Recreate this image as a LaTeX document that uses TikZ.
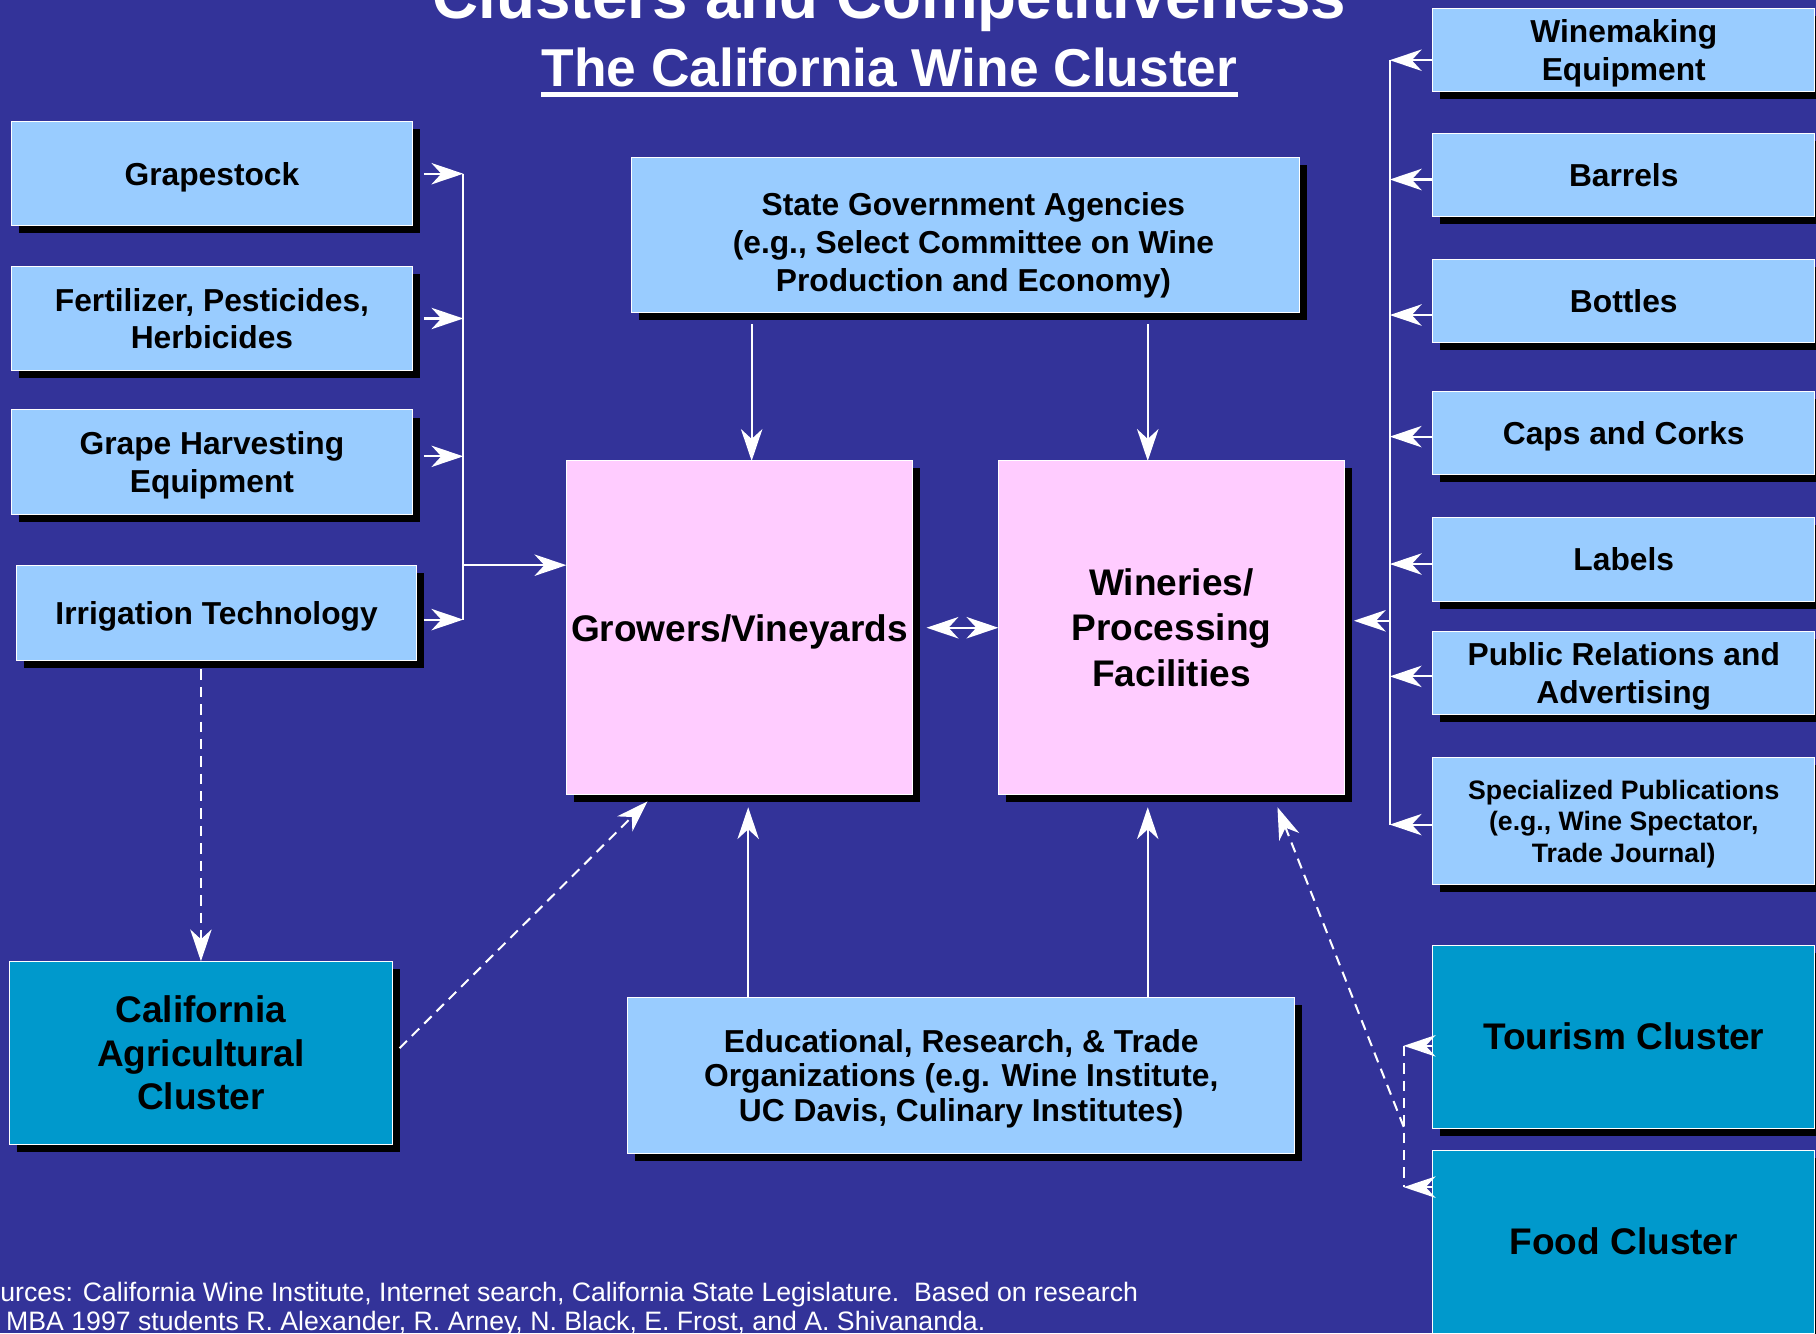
\documentclass[tikz,border=0pt]{standalone}
\usepackage{fontspec}
\setmainfont{Liberation Sans}
\usetikzlibrary{positioning,shadows,arrows.meta}
\definecolor{bg}{HTML}{333399}
\definecolor{lblue}{HTML}{99CCFF}
\definecolor{lpink}{HTML}{FFCCFF}
\definecolor{dcyan}{HTML}{0099CC}
\tikzset{card/.style={draw=white, line width=0.5pt, text=black, align=center, inner sep=0pt, outer sep=0pt, drop shadow={shadow xshift=0.13cm, shadow yshift=-0.13cm, fill=black, opacity=1}}}
\tikzset{box/.style={card, fill=lblue, text depth=0pt, font=\bfseries\fontsize{15.6}{18.6}\selectfont}}
\tikzset{side/.style={box, minimum width=6.92cm, minimum height=1.8cm}}
\tikzset{rbox/.style={box, minimum width=6.6cm, minimum height=1.44cm}}
\tikzset{hub/.style={card, fill=lpink, minimum width=5.98cm, minimum height=5.76cm, font=\bfseries\fontsize{18.2}{22.2}\selectfont}}
\tikzset{clus/.style={card, fill=dcyan, minimum width=6.6cm, minimum height=3.16cm, font=\bfseries\fontsize{18.2}{21.6}\selectfont}}
\tikzset{>={Stealth[length=0.55cm, width=0.37cm, inset=0.17cm]}}
\tikzset{line/.style={draw=white, line width=1pt, ->}}
\tikzset{dline/.style={line, dash pattern=on 0.18cm off 0.12cm}}
\tikzset{bus/.style={draw=white, line width=1pt}}

\begin{document}
\begin{tikzpicture}
	\useasboundingbox (0,0) rectangle (31.36,23.02);
	\clip (0,0) rectangle (31.36,23.02);
	\fill [bg] (0,0) rectangle (31.36,23.02);

	\node [text=white, font=\bfseries\fontsize{31.3}{36}\selectfont, anchor=base, inner sep=0pt]	(t1) at (15.36,22.70) {Clusters and Competitiveness};
	\node [text=white, font=\bfseries\fontsize{26.2}{30}\selectfont, anchor=base, inner sep=0pt]	(t2) at (15.36,21.53) {The California Wine Cluster};
	\draw [white, line width=0.086cm] ([yshift=-0.14cm]t2.base west) -- ([yshift=-0.14cm]t2.base east);

	\node [side]										(gs) at (3.66,20.02) {Grapestock};
	\node [side, below=0.7cm of gs]						(fp) {Fertilizer, Pesticides,\\Herbicides};
	\node [side, below=0.68cm of fp]					(gh) {Grape Harvesting\\Equipment};
	\node [side, below=0.88cm of gh, xshift=0.08cm, minimum height=1.64cm]	(it) {Irrigation Technology};

	\node [box, minimum width=11.54cm, minimum height=2.68cm, text height=55pt]	(sg) at (16.67,18.96) {\hspace*{0.28cm}State Government Agencies\\\hspace*{0.28cm}(e.g., Select Committee on Wine\\\hspace*{0.28cm}Production and Economy)};
	\node [hub, text depth=0pt]							(gv) at (12.77,12.18) {Growers/Vineyards};
	\node [hub, right=1.48cm of gv]						(wp) {Wineries/\\Processing\\Facilities};
	\node [box, minimum width=11.52cm, minimum height=2.7cm, font=\bfseries\fontsize{15.6}{17.1}\selectfont]	(ed) at (16.60,4.45) {Educational, Research, \& Trade\\Organizations (e.g. Wine Institute,\\UC Davis, Culinary Institutes)};
	\node [clus, minimum width=6.62cm]					(ag) at (3.47,4.84) {California\\Agricultural\\Cluster};

	\node [rbox]										(wm) at (28.04,22.16) {Winemaking\\Equipment};
	\node [rbox, below=0.72cm of wm]					(bar) {Barrels};
	\node [rbox, below=0.74cm of bar]					(bot) {Bottles};
	\node [rbox, below=0.84cm of bot]					(cc) {Caps and Corks};
	\node [rbox, below=0.74cm of cc]					(lb) {Labels};
	\node [rbox, below=0.52cm of lb]					(pr) {Public Relations and\\Advertising};
	\node [rbox, below=0.74cm of pr, minimum height=2.2cm, font=\bfseries\fontsize{13.1}{15.6}\selectfont]	(sp) {Specialized Publications\\(e.g., Wine Spectator,\\Trade Journal)};
	\node [clus, below=1.04cm of sp]					(tc) {Tourism Cluster};
	\node [clus, below=0.38cm of tc]					(fc) {Food Cluster};

	\node [text=white, font=\fontsize{13.1}{14.2}\selectfont, anchor=base west, align=left, inner sep=0pt]	(src) at (0,0.04) {urces: California Wine Institute, Internet search, California State Legislature.\ \ Based on research\\\hspace*{0.1cm}MBA 1997 students R. Alexander, R. Arney, N. Black, E. Frost, and A. Shivananda.};

	\coordinate (bl) at (8,13.26);
	\coordinate (rb) at (24,12.30);
	\coordinate (bc) at (24.24,3.56);
	\coordinate (tj) at ([yshift=-0.16cm]tc.west -| bc);
	\coordinate (fj) at ([yshift=-0.64cm]fc.north west -| bc);

	\path [line] ([xshift=0.2cm]gs.east) -- (gs.east -| bl);
	\path [line] ([xshift=0.2cm]fp.east) -- (fp.east -| bl);
	\path [line] ([xshift=0.2cm, yshift=0.1cm]gh.east) -- ([yshift=0.1cm]gh.east -| bl);
	\path [line] ([xshift=0.12cm, yshift=-0.12cm]it.east) -- ([yshift=-0.12cm]it.east -| bl);
	\path [bus] (gs.east -| bl) -- ([yshift=-0.12cm]it.east -| bl);
	\path [line] (bl) -- (bl -| gv.west);

	\path [line] ([xshift=0.21cm, yshift=-0.2cm]sg.south -| gv.north) -- ([xshift=0.21cm]gv.north);
	\path [line] ([xshift=-0.41cm, yshift=-0.2cm]sg.south -| wp.north) -- ([xshift=-0.41cm]wp.north);
	\path [line] ([xshift=0.15cm]ed.north -| gv.south) -- ([xshift=0.15cm, yshift=-0.22cm]gv.south);
	\path [line] ([xshift=-0.41cm]ed.north -| wp.south) -- ([xshift=-0.41cm, yshift=-0.22cm]wp.south);
	\path [line, <->] ([xshift=0.24cm]gv.east) -- (wp.west);

	\path [line] ([yshift=-0.18cm]wm.west) -- ([yshift=-0.18cm]wm.west -| rb);
	\path [line] ([yshift=-0.08cm]bar.west) -- ([yshift=-0.08cm]bar.west -| rb);
	\path [line] ([yshift=-0.24cm]bot.west) -- ([yshift=-0.24cm]bot.west -| rb);
	\path [line] ([yshift=-0.06cm]cc.west) -- ([yshift=-0.06cm]cc.west -| rb);
	\path [line] ([yshift=-0.08cm]lb.west) -- ([yshift=-0.08cm]lb.west -| rb);
	\path [line] ([yshift=-0.06cm]pr.west) -- ([yshift=-0.06cm]pr.west -| rb);
	\path [line] ([yshift=-0.06cm]sp.west) -- ([yshift=-0.06cm]sp.west -| rb);
	\path [bus] ([yshift=-0.18cm]wm.west -| rb) -- ([yshift=-0.06cm]sp.west -| rb);
	\path [line] (rb) -- ([xshift=0.16cm]rb -| wp.east);

	\path [dline] ([yshift=-0.16cm]it.south -| ag.north) -- (ag.north);
	\path [dline] ([xshift=0.12cm, yshift=0.08cm]ag.east) -- ([xshift=1.4cm, yshift=-0.12cm]gv.south west);
	\path [dline] ([yshift=-0.16cm]tc.west) -- (tj);
	\path [dline] ([yshift=-0.64cm]fc.north west) -- (fj);
	\path [dline, -] (tj) -- (fj);
	\path [dline] (bc) -- ([xshift=-1.16cm, yshift=-0.22cm]wp.south east);
\end{tikzpicture}
\end{document}
